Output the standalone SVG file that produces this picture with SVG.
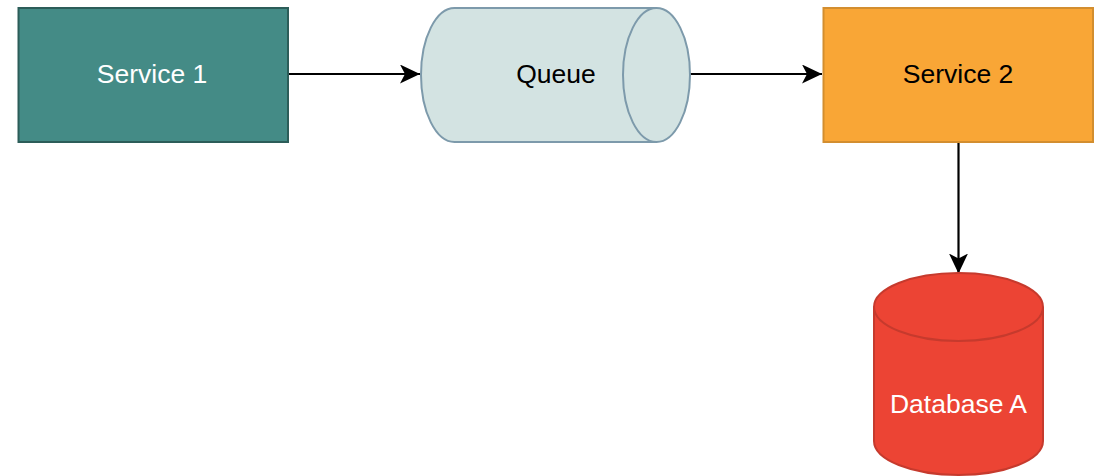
<svg xmlns="http://www.w3.org/2000/svg" width="1107" height="476" viewBox="0 0 1107 476">
<style>
text{font-family:"Liberation Sans",Arial,sans-serif;font-size:26.5px;text-anchor:middle;dominant-baseline:central}
.edge{stroke:#000;stroke-width:2.2;fill:none}
</style>
<defs>
<marker id="arr" markerWidth="22" markerHeight="20" refX="20" refY="9.5" orient="auto" markerUnits="userSpaceOnUse">
<path d="M0,0 L20,9.5 L0,19 L5,9.5 Z" fill="#000"/>
</marker>
</defs>
<rect width="1107" height="476" fill="#fff"/>
<g id="connectors">
<line class="edge" x1="288" y1="74" x2="420" y2="74" marker-end="url(#arr)"/>
<line class="edge" x1="690" y1="74" x2="822" y2="74" marker-end="url(#arr)"/>
<line class="edge" x1="958.5" y1="142" x2="958.5" y2="273.5" marker-end="url(#arr)"/>
</g>
<g id="service1">
<rect x="18.5" y="8" width="269.5" height="134" fill="#448B86" stroke="#2C5D59" stroke-width="2"/>
<text x="152" y="74" fill="#fff">Service 1</text>
</g>
<g id="queue">
<path d="M454.5,8 L656.5,8 A33.5,67 0 0 1 656.5,142 L454.5,142 A33.5,67 0 0 1 454.5,8 Z" fill="#D3E3E2" stroke="#7D9AAB" stroke-width="2"/>
<path d="M656.5,8 A33.5,67 0 0 0 656.5,142" fill="none" stroke="#7D9AAB" stroke-width="2"/>
<text x="556" y="74" fill="#000">Queue</text>
</g>
<g id="service2">
<rect x="823.5" y="8" width="269.5" height="134" fill="#F9A636" stroke="#D38E2F" stroke-width="2"/>
<text x="958" y="74" fill="#000">Service 2</text>
</g>
<g id="database">
<path d="M874,307 A84.5,34 0 0 1 1043,307 L1043,441 A84.5,34 0 0 1 874,441 Z" fill="#EC4434" stroke="#C63A2D" stroke-width="2"/>
<path d="M874,307 A84.5,34 0 0 0 1043,307" fill="none" stroke="#C63A2D" stroke-width="2"/>
<text x="958.5" y="404" fill="#fff">Database A</text>
</g>
</svg>
